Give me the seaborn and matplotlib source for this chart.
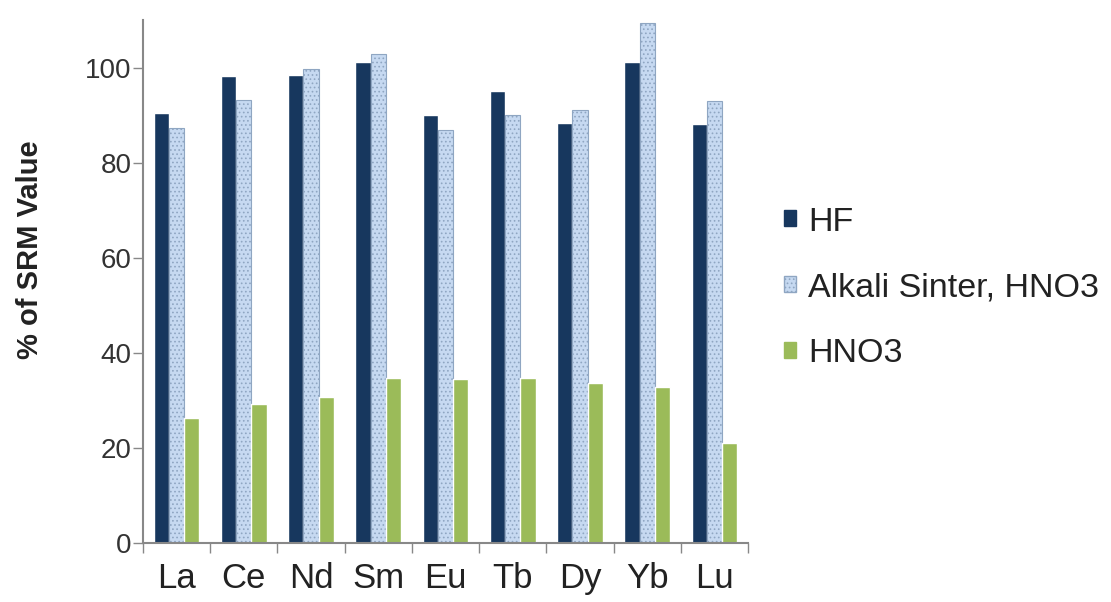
import matplotlib
matplotlib.use("Agg")
import matplotlib.pyplot as plt
from matplotlib.patches import Patch
import seaborn as sns
import pandas as pd

elements = ["La", "Ce", "Nd", "Sm", "Eu", "Tb", "Dy", "Yb", "Lu"]
hf = [90.5, 98.3, 98.5, 101.3, 90.0, 95.0, 88.4, 101.3, 88.2]
alkali_sinter = [87.4, 93.3, 99.8, 102.9, 86.8, 90.1, 91.2, 109.5, 93.0]
hno3 = [26.3, 29.3, 30.8, 34.7, 34.5, 34.7, 33.6, 32.8, 21.0]
methods = ["HF", "Alkali Sinter, HNO3", "HNO3"]
colors = ["#17375e", "#c6d9f1", "#9bbb59"]

df = pd.DataFrame({
    "element": elements * 3,
    "value": hf + alkali_sinter + hno3,
    "method": [m for m in methods for _ in elements],
})

sns.set_theme(style="white")
plt.rcParams["font.family"] = ["Liberation Sans", "DejaVu Sans"]
plt.rcParams["hatch.linewidth"] = 0.7

fig = plt.figure(figsize=(11.11, 6.02), dpi=100)
ax = fig.add_axes([0.1287, 0.098, 0.6733 - 0.1287, 0.9665 - 0.098])

sns.barplot(data=df, x="element", y="value", hue="method", order=elements,
            hue_order=methods, palette=colors, saturation=1, width=0.68,
            ax=ax, legend=False)

# dotted pattern fill for the alkali sinter series
for bar in ax.containers[1]:
    bar.set_hatch("....")
    bar.set_edgecolor("#8fa6c2")
    bar.set_linewidth(0.8)

ax.set_ylim(0, 110)
ax.set_xlim(-0.5, len(elements) - 0.5)
ax.set_yticks([0, 20, 40, 60, 80, 100])
ax.set_xlabel("")
ax.set_ylabel("")
fig.text(0.027, 0.585, "% of SRM Value", rotation=90, ha="center",
         va="center", fontsize=21, fontweight="bold", color="#222222")

# category separators on the x axis
ax.set_xticks([i + 0.5 for i in range(-1, len(elements))], minor=True)
ax.tick_params(axis="x", which="major", length=0, labelsize=25,
               labelcolor="#222222", pad=14)
ax.tick_params(axis="x", which="minor", length=7, width=1, color="#888888",
               direction="out", bottom=True)
ax.tick_params(axis="y", which="major", length=7, width=1, color="#888888",
               direction="out", left=True, labelsize=20, labelcolor="#333333",
               pad=1)

for side in ["top", "right"]:
    ax.spines[side].set_visible(False)
for side in ["left", "bottom"]:
    ax.spines[side].set_color("#888888")
    ax.spines[side].set_linewidth(1.5)

handles = [
    Patch(facecolor=colors[0], edgecolor=colors[0]),
    Patch(facecolor=colors[1], edgecolor="#8fa6c2", hatch="...."),
    Patch(facecolor=colors[2], edgecolor=colors[2]),
]
fig.legend(handles, methods, loc="center left", bbox_to_anchor=(0.690, 0.522),
           frameon=False, fontsize=24.5, handlelength=0.36, handleheight=0.36,
           handletextpad=0.35, labelspacing=1.02, borderpad=0,
           labelcolor="#222222")

fig.savefig("out.png", dpi=100)
